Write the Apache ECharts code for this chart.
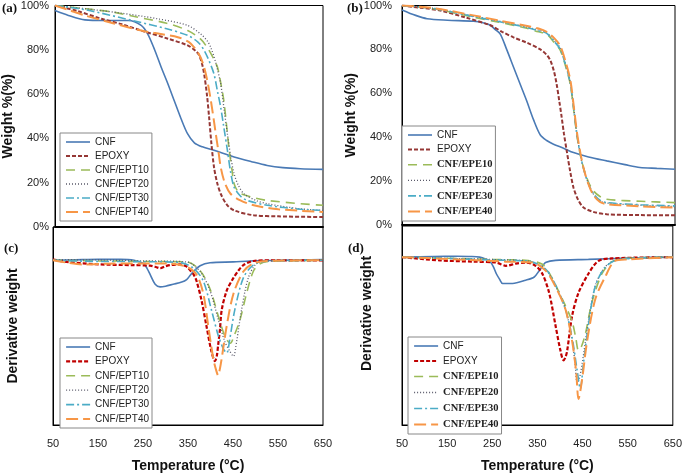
<!DOCTYPE html>
<html>
<head>
<meta charset="utf-8">
<script src="https://cdn.jsdelivr.net/npm/echarts@6/dist/echarts.min.js"></script>
<style>
  html, body { margin: 0; padding: 0; background: #fff; }
  #chart { width: 685px; height: 474px; }
</style>
</head>
<body>
<div id="chart"></div>
<script>
  // temperature (°C), weight (%) -- panel (a)
  const aCNF = [[50,97.7],[80,95.5],[117,93.5],[160,93.2],[214,93.2],[243,91],[258,87],[273,80],[288,72],[302,65],[317,57],[332,49],[347,42],[362,38],[380,36.2],[406,34.6],[451,31.6],[490,29.5],[525,27.8],[560,26.8],[599,26.3],[650,26]];
  const aEPOXY = [[50,100],[100,97.5],[154,94],[200,91.5],[243,88.7],[303,85],[347,82],[365,79.5],[373,77.4],[380,73],[384,69],[390,60],[395,49.6],[400,38],[406,27],[413,20],[421,15],[435,10],[451,7.5],[495,5.3],[550,4.8],[650,4.5]];
  const aEPT10 = [[50,100],[120,98.5],[180,97],[228,95],[300,92],[347,88.7],[375,85],[391,81],[405,76],[414,72],[422,64],[428,57],[434,46],[440,34.6],[446,26],[451,19.5],[458,16.5],[466,15],[500,13],[525,12],[600,10.5],[650,9.8]];
  const aEPT20 = [[50,100],[120,98.5],[200,96.5],[280,94],[347,91],[377,87],[391,84],[399,81],[410,74],[421,64.6],[428,54],[436,42],[444,31],[451,24],[460,19],[473,15],[500,12],[525,10.5],[600,8.2],[650,7.5]];
  const aEPT30 = [[50,100],[120,98],[228,93],[300,89.5],[347,86.5],[370,83.5],[384,79.7],[395,75],[406,69],[414,61],[421,54],[428,45],[436,34.6],[443,25],[451,18],[465,14],[480,12],[525,9.8],[600,8],[650,7.5]];
  const aEPT40 = [[50,100],[80,98],[117,95.5],[180,92],[243,88.7],[290,87],[325,85.7],[350,83.5],[362,81],[375,77],[384,72],[392,65],[399,57],[405,49],[410,42],[416,34],[421,27],[430,20],[443,15],[465,12],[495,9.8],[550,8],[650,6.8]];

  // panel (b)
  const bCNF = [[50,98],[80,95.5],[105,94],[150,93.3],[207,92.8],[230,92],[244,91],[255,89],[266,87],[280,80],[295,72],[310,64],[324,56.6],[339,48],[354,41],[368,38.5],[383,36.8],[405,35],[427,33],[460,31],[500,29.2],[540,27.5],[573,26.2],[610,25.8],[650,25.4]];
  const bEPOXY = [[50,100],[90,99],[134,97.7],[190,94.5],[244,91],[270,88],[295,85.5],[325,83],[354,80],[368,77.5],[376,75],[384,70],[390,64],[396,56],[401,49],[406,41.5],[412,33.8],[420,24],[427,17],[437,11.5],[449,8],[470,6],[500,4.9],[575,4.5],[650,4.4]];
  const bEPE10 = [[50,100],[120,98.5],[207,94.7],[260,92.5],[317,90],[350,88],[368,87],[385,83],[398,79.5],[410,72],[420,64],[427,53],[434,41.4],[441,33],[449,26],[460,19.5],[471,15.5],[485,13],[500,11.7],[575,10.8],[650,10.2]];
  const bEPE20 = [[50,100],[120,98.7],[207,95.2],[260,93],[317,90.5],[350,88.8],[368,87.5],[385,84],[398,80.5],[410,73],[420,65],[427,54],[434,42],[441,33],[449,25.5],[460,18.5],[471,14],[485,11],[500,10],[575,9],[650,8.4]];
  const bEPE30 = [[50,100],[120,98.6],[207,95],[260,92.8],[317,90.3],[350,88.5],[368,87.3],[385,83.5],[398,80],[410,72.5],[420,64.5],[427,53.5],[434,41.8],[441,33],[449,25.7],[460,18.8],[471,14.2],[485,11.3],[500,10.2],[575,9.2],[650,8.7]];
  const bEPE40 = [[50,100],[120,98.8],[207,95.5],[260,93.3],[317,91],[350,89.5],[368,88],[385,85],[398,81.5],[410,74],[420,66],[427,55],[434,43],[441,34],[449,26],[460,18.5],[471,13.5],[485,10.5],[500,9.5],[575,8.5],[650,7.9]];

  // derivative weight (arbitrary units) -- panel (c)
  const cCNF = [[50,0],[100,0.004],[150,0.008],[200,0.008],[230,0],[251,-0.028],[259,-0.07],[266,-0.125],[277,-0.208],[288,-0.231],[300,-0.225],[317,-0.208],[336,-0.189],[347,-0.167],[355,-0.13],[362,-0.097],[377,-0.047],[399,-0.022],[451,-0.014],[488,-0.006],[550,0],[650,0.006]];
  const cEPOXY = [[50,0.008],[80,-0.014],[154,-0.036],[228,-0.042],[266,-0.047],[280,-0.06],[288,-0.069],[300,-0.052],[310,-0.042],[332,-0.036],[345,-0.05],[354,-0.083],[362,-0.12],[369,-0.18],[380,-0.347],[391,-0.57],[402,-0.79],[410,-0.875],[414,-0.83],[417,-0.736],[421,-0.6],[425,-0.43],[436,-0.264],[451,-0.153],[462,-0.09],[473,-0.042],[495,-0.006],[550,0],[650,0]];
  const cEPT10 = [[50,0],[150,-0.005],[250,-0.01],[347,-0.014],[377,-0.09],[399,-0.25],[417,-0.48],[430,-0.64],[438,-0.7],[444,-0.72],[452,-0.66],[466,-0.51],[480,-0.29],[495,-0.097],[510,-0.03],[530,-0.01],[650,0]];
  const cEPT20 = [[50,0.005],[150,0.003],[250,-0.005],[347,-0.014],[377,-0.097],[399,-0.264],[417,-0.51],[432,-0.708],[443,-0.79],[451,-0.833],[458,-0.708],[469,-0.43],[484,-0.153],[502,-0.028],[525,-0.006],[650,0]];
  const cEPT30 = [[50,0],[150,-0.01],[250,-0.012],[332,-0.019],[362,-0.069],[384,-0.18],[402,-0.43],[417,-0.65],[428,-0.764],[436,-0.805],[443,-0.68],[454,-0.43],[473,-0.153],[495,-0.042],[525,-0.008],[650,0]];
  const cEPT40 = [[50,0],[80,-0.02],[117,-0.036],[170,-0.03],[228,-0.028],[303,-0.028],[347,-0.056],[369,-0.125],[384,-0.29],[395,-0.57],[406,-0.85],[413,-0.96],[417,-1.0],[421,-0.94],[425,-0.85],[436,-0.57],[451,-0.29],[473,-0.097],[495,-0.028],[525,-0.006],[650,0]];

  // panel (d)
  const dCNF = [[50,0],[120,0.006],[171,0.008],[205,0.006],[222,0],[235,-0.015],[244,-0.033],[252,-0.08],[259,-0.144],[266,-0.19],[273,-0.228],[295,-0.228],[324,-0.2],[343,-0.172],[354,-0.117],[361,-0.08],[368,-0.047],[390,-0.028],[463,-0.019],[550,-0.008],[650,0]];
  const dEPOXY = [[50,0],[134,-0.028],[207,-0.039],[259,-0.047],[280,-0.075],[302,-0.056],[324,-0.047],[346,-0.075],[361,-0.144],[376,-0.31],[390,-0.59],[401,-0.81],[408,-0.894],[412,-0.87],[416,-0.81],[427,-0.506],[441,-0.31],[463,-0.144],[485,-0.033],[515,-0.011],[650,0]];
  const dEPE10 = [[50,0],[150,-0.01],[250,-0.02],[330,-0.03],[360,-0.06],[375,-0.13],[390,-0.24],[412,-0.42],[427,-0.56],[435,-0.7],[441,-0.81],[448,-0.77],[456,-0.67],[471,-0.39],[493,-0.144],[515,-0.04],[550,-0.01],[650,0]];
  const dEPE20 = [[50,0],[150,-0.01],[250,-0.02],[330,-0.035],[360,-0.08],[375,-0.14],[390,-0.25],[412,-0.45],[427,-0.72],[434,-0.95],[438,-1.09],[443,-1.05],[450,-0.9],[463,-0.56],[478,-0.25],[500,-0.085],[530,-0.02],[650,0]];
  const dEPE30 = [[50,0],[150,-0.01],[250,-0.025],[330,-0.035],[368,-0.103],[390,-0.24],[412,-0.45],[427,-0.7],[438,-0.98],[445,-1.14],[452,-0.92],[463,-0.59],[478,-0.256],[500,-0.089],[529,-0.02],[650,0]];
  const dEPE40 = [[50,0],[150,-0.015],[280,-0.039],[339,-0.047],[368,-0.117],[390,-0.256],[412,-0.45],[427,-0.73],[436,-1.0],[441,-1.23],[449,-1.06],[460,-0.73],[478,-0.367],[500,-0.172],[522,-0.033],[551,-0.02],[650,0]];

  const namesEPT = ['CNF', 'EPOXY', 'CNF/EPT10', 'CNF/EPT20', 'CNF/EPT30', 'CNF/EPT40'];
  const namesEPE = ['CNF', 'EPOXY', 'CNF/EPE10', 'CNF/EPE20', 'CNF/EPE30', 'CNF/EPE40'];

  const sans = '"Liberation Sans", Arial, sans-serif';
  const serif = '"Liberation Serif", "Times New Roman", serif';

  // line look per position in the list: CNF, EPOXY, 10, 20, 30, 40
  const looks = [
    {color: '#4a7ab5', type: 'solid', width: 1.6},
    {color: '#953735', type: [4, 2], width: 2},
    {color: '#9bbb59', type: [9, 6], width: 1.6},
    {color: '#5a5a6a', type: [1, 2], width: 1.3},
    {color: '#4bacc6', type: [8, 3, 2, 3], width: 1.6},
    {color: '#f79646', type: [12, 5], width: 2}
  ];

  function look(i, redder) {
    const lk = Object.assign({}, looks[i]);
    if (redder && i === 1) { lk.color = '#c00000'; lk.width = 2.2; }
    return lk;
  }

  function mk(name, data, idx, i, redder) {
    const lk = look(i, redder);
    return {
      name: name, type: 'line', data: data, xAxisIndex: idx, yAxisIndex: idx,
      showSymbol: false, symbol: 'none', smooth: 0.3, animation: false,
      lineStyle: lk, itemStyle: {color: lk.color}
    };
  }

  const series = [];
  [aCNF, aEPOXY, aEPT10, aEPT20, aEPT30, aEPT40].forEach((d, i) => series.push(mk(namesEPT[i], d, 0, i)));
  [bCNF, bEPOXY, bEPE10, bEPE20, bEPE30, bEPE40].forEach((d, i) => series.push(mk(namesEPE[i], d, 1, i)));
  [cCNF, cEPOXY, cEPT10, cEPT20, cEPT30, cEPT40].forEach((d, i) => series.push(mk(namesEPT[i], d, 2, i, true)));
  [dCNF, dEPOXY, dEPE10, dEPE20, dEPE30, dEPE40].forEach((d, i) => series.push(mk(namesEPE[i], d, 3, i, true)));

  function legendData(names, redder, serifEPE) {
    return names.map((n, i) => {
      const lk = look(i, redder);
      // line only, no marker
      const item = {name: n, lineStyle: lk, itemStyle: {color: 'rgba(0,0,0,0)', borderWidth: 0, opacity: 0}};
      if (serifEPE && i > 1) item.textStyle = {fontFamily: serif, fontWeight: 'bold', fontSize: 10.5};
      return item;
    });
  }

  function mkLegend(left, top, gap, names, redder, serifEPE) {
    return {
      left: left, top: top, orient: 'vertical', itemWidth: 24, itemHeight: 8, itemGap: gap,
      borderColor: '#888', borderWidth: 1, padding: [4, 3, 4, 5], backgroundColor: '#fff',
      selectedMode: false,
      data: legendData(names, redder, serifEPE),
      textStyle: {fontFamily: sans, fontSize: 10, color: '#222'}
    };
  }

  function xAx(grid, labels) {
    return {
      type: 'value', gridIndex: grid, min: 50, max: 650, interval: 100,
      splitLine: {show: false}, axisTick: {show: false},
      axisLine: {show: true, onZero: false, lineStyle: {color: '#000', width: labels ? 1 : 2}},
      axisLabel: {show: labels, color: '#222', fontFamily: sans, fontSize: 11, margin: 13},
      name: labels ? 'Temperature (°C)' : '', nameLocation: 'middle', nameGap: 34,
      nameTextStyle: {fontFamily: sans, fontWeight: 'bold', fontSize: 14, color: '#111'}
    };
  }

  function yWeight(grid, margin, gap) {
    return {
      type: 'value', gridIndex: grid, min: 0, max: 100, interval: 20,
      splitLine: {show: false}, axisTick: {show: false},
      axisLine: {show: true, lineStyle: {color: '#000'}},
      axisLabel: {color: '#222', fontFamily: sans, fontSize: 11, margin: margin, formatter: '{value}%'},
      name: 'Weight %(%)', nameLocation: 'middle', nameGap: gap,
      nameTextStyle: {fontFamily: sans, fontWeight: 'bold', fontSize: 14, color: '#111'}
    };
  }

  function yDeriv(grid, min, max, gap, pad) {
    return {
      type: 'value', gridIndex: grid, min: min, max: max,
      splitLine: {show: false}, axisTick: {show: false}, axisLabel: {show: false},
      axisLine: {show: true, lineStyle: {color: '#000'}},
      name: 'Derivative weight', nameLocation: 'middle', nameGap: gap,
      nameTextStyle: {fontFamily: sans, fontWeight: 'bold', fontSize: 14, color: '#111', padding: pad}
    };
  }

  const panelLabel = (text, left, top) => ({
    text: text, left: left, top: top, padding: 0,
    textStyle: {fontFamily: serif, fontWeight: 'bold', fontSize: 13, color: '#111'}
  });

  const option = {
    backgroundColor: '#fff',
    animation: false,
    title: [
      panelLabel('(a)', 2, 2),
      panelLabel('(b)', 347, 2),
      panelLabel('(c)', 4, 242),
      panelLabel('(d)', 348, 242)
    ],
    grid: [
      {left: 53, top: 5, width: 270, height: 222, show: true, borderColor: '#000', borderWidth: 1},
      {left: 402, top: 5, width: 273, height: 220, show: true, borderColor: '#000', borderWidth: 1},
      {left: 53, top: 227, width: 270, height: 206, show: true, borderColor: '#000', borderWidth: 1},
      {left: 402, top: 226, width: 273, height: 208, show: true, borderColor: '#000', borderWidth: 1}
    ],
    xAxis: [xAx(0, false), xAx(1, false), xAx(2, true), xAx(3, true)],
    yAxis: [
      yWeight(0, 6, 40),
      yWeight(1, 10, 44),
      yDeriv(2, -1.43, 0.289, 33, 0),
      yDeriv(3, -1.455, 0.27, 28, [0, 0, 0, 24])
    ],
    legend: [
      mkLegend(60, 133, 4, namesEPT, false, false),
      mkLegend(402, 126, 4.6, namesEPE, false, true),
      mkLegend(60, 338, 4.4, namesEPT, true, false),
      mkLegend(408, 337, 5, namesEPE, true, true)
    ],
    series: series
  };

  const chart = echarts.init(document.getElementById('chart'), null, {renderer: 'canvas'});
  chart.setOption(option);
</script>
</body>
</html>
